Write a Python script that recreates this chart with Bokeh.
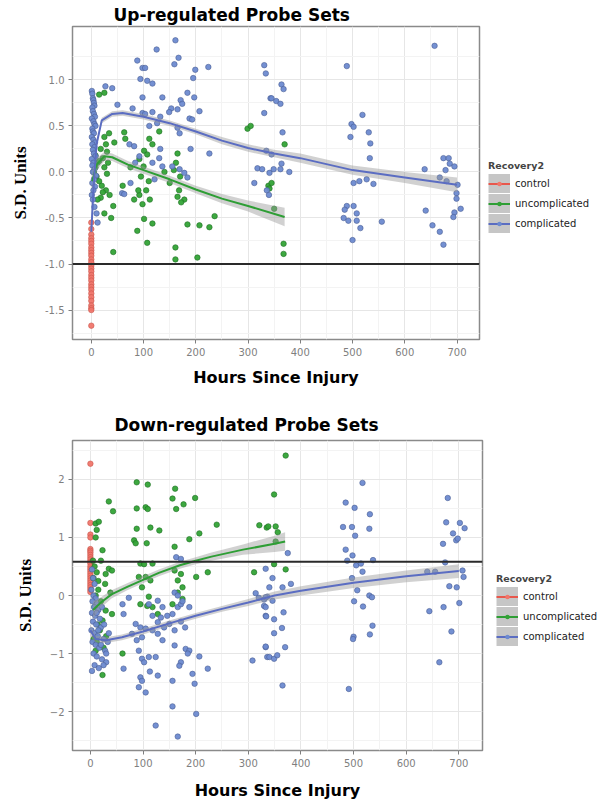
from bokeh.plotting import figure
from bokeh.layouts import column
from bokeh.models import Range1d, FixedTicker, Span, Legend, LegendItem, NumeralTickFormatter
from bokeh.embed import file_html
from bokeh.resources import INLINE

# ------------------------------------------------------------------ data
groups = ["control", "uncomplicated", "complicated"]
x_ticks = [0, 100, 200, 300, 400, 500, 600, 700]
x_minor = [50, 150, 250, 350, 450, 550, 650]
up_y_ticks = [-1.5, -1.0, -0.5, 0.0, 0.5, 1.0]
up_y_minor = [-1.75, -1.25, -0.75, -0.25, 0.25, 0.75, 1.25]
down_y_ticks = [-2, -1, 0, 1, 2]
down_y_minor = [-2.5, -1.5, -0.5, 0.5, 1.5, 2.5]

# ---- Up-regulated panel
up_control_x = [0, 0, 0, 0, 0, 0, 0, 0, 0, 0, 0, 0, 0, 0, 0, 0, 0, 0, 0, 0, 0, 0, 0, 0, 0, 0, 0, 0]
up_control_y = [-0.55, -0.62, -0.68, -0.72, -0.75, -0.78, -0.82, -0.85, -0.88, -0.91, -0.95, -0.98,
                -1.02, -1.05, -1.08, -1.12, -1.15, -1.18, -1.22, -1.25, -1.28, -1.32, -1.36, -1.40,
                -1.45, -1.48, -1.50, -1.67]

up_uncomp_x = [15, 25, 34, 44, 63, 65, 25, 28, 30, 18, 22, 12, 8, 5, 10, 15, 20, 28, 35, 18,
               12, 25, 30, 8, 15, 42, 25, 38, 22, 32, 111, 117, 101, 107, 92, 100, 95, 110, 105, 92,
               112, 98, 130, 165, 162, 170, 168, 165, 178, 172, 158, 82, 90, 88, 117, 101, 184, 207, 226, 236,
               107, 161, 42, 161, 203, 299, 305, 370, 339, 345, 341, 368, 368, 350, 140, 150, 60, 75]
up_uncomp_y = [0.84, 0.86, 0.42, 0.32, 0.43, 0.36, 0.38, 0.30, 0.22, 0.25, 0.15, 0.10, 0.05, 0.00, -0.05, -0.10, -0.15, -0.20, -0.25, -0.28,
               -0.30, 0.05, -0.02, 0.18, 0.12, -0.37, -0.45, -0.50, -0.22, 0.10, 0.36, 0.30, 0.23, 0.19, 0.14, 0.06, -0.05, -0.10, -0.20, -0.25,
               -0.30, -0.35, 0.44, 0.20, 0.10, -0.05, -0.20, -0.27, -0.30, -0.33, 0.02, -0.30, -0.20, -0.64, -0.56, -0.51, -0.57, -0.58, -0.60, -0.48,
               -0.77, -0.82, -0.87, -0.95, -0.93, 0.47, 0.50, 0.30, -0.15, -0.12, -0.18, -0.78, -0.89, -0.40, 0.00, -0.12, -0.15, 0.05]

up_comp_x = [1, 2, 3, 4, 5, 6, 2, 3, 5, 7, 1, 4, 6, 8, 2, 3, 5, 1, 4, 7, 2, 6, 3, 5, 8, 1, 4, 2, 6, 3, 9, 5, 2, 7, 4, 1, 3, 6, 10, 12,
             161, 125, 167, 88, 159, 98, 103, 199, 224, 94, 107, 117, 195, 40, 27, 98, 136, 184, 197, 50,
             171, 174, 153, 149, 165, 117, 132, 98, 207, 188, 193, 79, 103, 111, 126, 165, 169, 73, 82, 132,
             190, 226, 155, 169, 178, 184, 84, 92, 117, 130, 136, 75, 59, 63, 121,
             331, 334, 343, 331,
             489, 657, 364, 368, 345, 354, 362, 366, 519, 498, 502, 496, 531, 534, 533, 335, 345, 364, 379, 362,
             341, 349, 502, 513, 527, 540, 489, 502, 485, 508, 483, 492, 508, 515, 500, 556, 638, 674, 684, 686,
             695, 678, 667, 680, 701, 699, 699, 707, 695, 693, 640, 653, 667, 674, 318, 327, 312, 336, 340]
up_comp_y = [0.88, 0.85, 0.80, 0.78, 0.75, 0.72, 0.70, 0.66, 0.63, 0.60, 0.58, 0.55, 0.52, 0.50, 0.47, 0.44, 0.42, 0.38, 0.35, 0.32,
             0.30, 0.27, 0.24, 0.20, 0.17, 0.14, 0.10, 0.07, 0.03, 0.00, -0.04, -0.08, -0.12, -0.16, -0.20, -0.25, -0.30, -0.38, -0.45, -0.55,
             1.43, 1.33, 1.24, 1.21, 1.17, 1.13, 1.13, 1.11, 1.14, 1.01, 0.99, 0.96, 1.02, 0.91, 0.93, 0.81, 0.81, 0.86, 0.81, 0.73,
             0.78, 0.74, 0.69, 0.65, 0.68, 0.65, 0.60, 0.64, 0.66, 0.58, 0.57, 0.69, 0.63, 0.50, 0.53, 0.48, 0.42, 0.30, 0.28, 0.25,
             0.25, 0.20, 0.06, 0.03, -0.01, -0.06, 0.10, 0.17, 0.10, 0.15, 0.06, -0.12, -0.23, -0.24, -0.08,
             1.16, 1.07, 0.80, 0.64,
             1.15, 1.37, 0.95, 0.90, 0.80, 0.77, 0.74, 0.43, 0.62, 0.52, 0.49, 0.38, 0.43, 0.31, 0.15, 0.23, 0.19, 0.09, 0.00, 0.03,
             -0.01, 0.03, -0.12, -0.10, -0.08, -0.13, -0.37, -0.37, -0.41, -0.45, -0.50, -0.53, -0.53, -0.61, -0.74, -0.54, 0.03, 0.15, 0.15, 0.09,
             0.06, 0.02, -0.06, -0.10, -0.14, -0.23, -0.29, -0.40, -0.44, -0.49, -0.42, -0.58, -0.65, -0.79, 0.04, 0.03, -0.12, -0.20, -0.25]

up_uncomp_fit_x = [2, 10, 25, 40, 70, 100, 150, 200, 250, 300, 370]
up_uncomp_fit_y = [-0.10, 0.08, 0.17, 0.16, 0.08, 0.02, -0.08, -0.19, -0.29, -0.37, -0.49]
up_uncomp_fit_se = [0.12, 0.07, 0.05, 0.04, 0.04, 0.04, 0.04, 0.04, 0.05, 0.06, 0.10]

up_comp_fit_x = [0, 5, 10, 20, 40, 60, 100, 150, 200, 250, 300, 350, 400, 500, 600, 700]
up_comp_fit_y = [-0.65, -0.10, 0.30, 0.56, 0.63, 0.64, 0.60, 0.53, 0.44, 0.34, 0.26, 0.20, 0.15, 0.02, -0.06, -0.14]
up_comp_fit_se = [0.10, 0.06, 0.04, 0.03, 0.03, 0.03, 0.03, 0.03, 0.03, 0.04, 0.04, 0.04, 0.05, 0.05, 0.06, 0.08]

up_hline = -1.0

# ---- Down-regulated panel
down_control_x = [0, 0, 0, 0, 0, 0, 0, 0, 0, 0, 0, 0, 0, 0, 0, 0, 0, 0, 0, 0, 0, 0, 0, 0]
down_control_y = [2.27, 1.25, 1.05, 1.00, 0.80, 0.77, 0.74, 0.70, 0.66, 0.62, 0.58, 0.55, 0.50, 0.46,
                  0.42, 0.38, 0.34, 0.30, 0.26, 0.22, 0.18, 0.14, 0.10, 0.06]

down_uncomp_x = [88, 109, 161, 156, 177, 163, 199, 35, 43, 88, 105, 109, 88, 114, 131, 83, 86, 107, 188, 207,
                 240, 160, 10, 16, 12, 10, 23, 35, 41, 29, 15, 28, 38, 95, 102, 118, 92, 105, 114, 98,
                 111, 95, 108, 118, 160, 172, 166, 175, 166, 175, 156, 201, 223, 29, 41, 23, 61, 23, 10, 128,
                 371, 349, 356, 352, 321, 335, 352, 371, 349, 338, 311,
                 5, 8, 12, 6, 15, 10, 20, 8, 14, 18, 6, 12, 25, 10, 30, 20]
down_uncomp_y = [1.95, 1.91, 1.84, 1.67, 1.57, 1.49, 1.68, 1.62, 1.45, 1.50, 1.52, 1.49, 1.15, 1.17, 1.12, 0.95, 0.90, 0.90, 0.97, 1.07,
                 1.22, 0.84, 1.24, 1.27, 1.13, 1.00, 0.78, 0.46, 0.43, 0.37, 0.25, 0.20, 0.05, 0.55, 0.54, 0.55, 0.32, 0.32, 0.26, 0.14,
                 -0.02, -0.15, -0.18, -0.20, 0.43, 0.37, 0.26, 0.14, 0.05, -0.06, -0.15, 0.32, 0.40, -0.26, -0.32, -0.43, -1.00, -1.37, -0.71, -0.32,
                 2.41, 1.74, 1.09, 0.93, 1.21, 1.17, 1.19, 0.45, 0.54, 1.19, 0.40,
                 0.60, 0.50, 0.40, 0.30, 0.10, 0.00, -0.10, -0.20, -0.50, -0.60, -0.75, -0.80, -0.90, -0.95, -0.70, 0.60]

down_comp_x = [3, 5, 8, 2, 6, 10, 4, 12, 7, 15, 3, 9, 18, 5, 11, 20, 2, 8, 14, 25, 4, 10, 17, 28, 6, 12, 22, 30, 8, 3,
               15, 26, 20, 33, 35, 12, 22, 30, 25, 16,
               61, 73, 63, 111, 118, 128, 137, 146, 156, 166, 172, 163, 172, 86, 95, 105, 118, 128, 140, 150,
               160, 172, 180, 79, 88, 98, 92, 111, 98, 102, 124, 63, 113, 128, 95, 98, 92, 105, 156, 181,
               188, 185, 172, 169, 207, 223, 194, 198, 156, 201, 124, 166, 137, 160, 128, 134, 188, 160, 166, 175,
               314, 320, 330, 336, 330, 333, 333, 336, 308,
               517, 485, 502, 531, 480, 497, 503, 530, 485, 498, 488, 505, 514, 537, 517, 497, 507, 530, 535, 501,
               518, 536, 531, 500, 499, 491,
               679, 676, 702, 711, 689, 695, 698, 670, 674, 640, 655, 707, 709, 682, 696, 701, 671, 644, 686, 663,
               333, 346, 340, 365, 381, 375, 333, 346, 333, 334, 349, 367, 364, 349, 333, 340, 349, 355, 370, 365]
down_comp_y = [0.45, 0.30, 0.20, 0.10, 0.00, -0.05, -0.10, -0.15, -0.20, -0.25, -0.30, -0.35, -0.40, -0.45, -0.50, -0.55, -0.60, -0.65, -0.70, -0.75,
               -0.80, -0.85, -0.90, -0.95, -1.00, -1.05, -1.10, -1.15, -1.20, -1.30, -0.60, -0.50, -0.85, -0.80, -0.65, -0.30, -0.20, -1.00, -1.20, -1.25,
               -0.15, -0.04, -0.32, -0.15, -0.35, -0.09, -0.20, -0.35, -0.32, -0.20, -0.15, 0.66, 0.63, -0.49, -0.55, -0.57, -0.60, -0.66, -0.55, -0.49,
               -0.60, -0.45, -0.55, -0.66, -0.77, -0.72, -0.95, -1.06, -1.09, -1.15, -1.06, -1.26, -1.31, -1.38, -1.41, -1.47, -1.58, -1.67, -1.47, -0.92,
               -0.95, -1.00, -1.15, -1.21, -1.05, -1.26, -1.35, -1.52, -1.91, -2.04, -2.24, -2.43, -0.77, -0.86, -0.46, -0.38, -0.20, 0.05, 0.00, -0.10,
               0.04, -0.04, -0.07, -0.02, -0.18, -0.35, -0.89, -1.06, -1.12,
               1.94, 1.60, 1.51, 1.40, 1.18, 1.18, 1.03, 1.15, 0.79, 0.69, 0.60, 0.52, 0.55, 0.61, 0.41, 0.30, 0.09, 0.00, -0.03, -0.10,
               -0.19, -0.52, -0.67, -0.71, -0.75, -1.61,
               1.68, 1.26, 1.25, 1.16, 1.07, 0.95, 0.98, 0.89, 0.57, 0.41, 0.41, 0.43, 0.32, 0.16, 0.14, -0.13, -0.20, -0.27, -0.62, -1.15,
               0.46, 0.30, 0.14, 0.14, 0.20, 0.73, -0.03, -0.09, -0.20, -0.36, -0.41, -0.29, -0.56, -0.65, -0.88, -1.06, -1.09, -1.03, -0.89, -1.55]

down_uncomp_fit_x = [5, 20, 40, 70, 100, 130, 170, 200, 230, 290, 350, 370]
down_uncomp_fit_y = [-0.25, -0.12, 0.02, 0.15, 0.27, 0.39, 0.52, 0.60, 0.67, 0.79, 0.89, 0.93]
down_uncomp_fit_se = [0.15, 0.09, 0.07, 0.06, 0.06, 0.06, 0.06, 0.06, 0.07, 0.09, 0.14, 0.16]

down_comp_fit_x = [0, 10, 30, 60, 100, 150, 200, 250, 300, 350, 400, 500, 600, 700]
down_comp_fit_y = [-0.60, -0.75, -0.77, -0.72, -0.62, -0.48, -0.35, -0.23, -0.12, 0.00, 0.08, 0.22, 0.33, 0.42]
down_comp_fit_se = [0.10, 0.06, 0.05, 0.05, 0.05, 0.05, 0.05, 0.05, 0.06, 0.07, 0.08, 0.09, 0.10, 0.12]

down_hline = 0.58

# ------------------------------------------------------------------ styles
PT_COL = {"control": "#f0766b", "uncomplicated": "#33a336", "complicated": "#6d8ad0"}
PT_EDGE = {"control": "#c9554c", "uncomplicated": "#1f6e24", "complicated": "#4a5e94"}
LN_COL = {"control": "#e8574c", "uncomplicated": "#2e9e35", "complicated": "#5b6dc2"}
GREY = "#7f7f7f"
KEY_BG = "#c6c6c6"


def make_panel(title, xr, yr, yticks, yminor, yfmt, frame, borders, title_off, title_standoff,
               pts, fits, hline, xlab_standoff, leg_loc):
    fw, fh = frame
    bl, br, bt, bb = borders
    p = figure(frame_width=fw, frame_height=fh, min_border_left=bl, min_border_right=br,
               min_border_top=bt, min_border_bottom=bb,
               x_range=Range1d(*xr), y_range=Range1d(*yr),
               output_backend="svg", toolbar_location=None, title=title)
    p.title.text_font = "DejaVu Sans"
    p.title.text_font_style = "bold"
    p.title.text_font_size = "17px"
    p.title.text_color = "black"
    p.title.align = "left"
    p.title.offset = title_off
    p.title.standoff = title_standoff
    p.background_fill_color = "white"
    p.border_fill_color = "white"
    p.outline_line_color = "#8a8a8a"
    p.outline_line_width = 1.5

    p.xaxis.ticker = FixedTicker(ticks=x_ticks, minor_ticks=x_minor)
    p.yaxis.ticker = FixedTicker(ticks=yticks, minor_ticks=yminor)
    if yfmt:
        p.yaxis.formatter = NumeralTickFormatter(format=yfmt)
    for ax in (p.xaxis[0], p.yaxis[0]):
        ax.axis_line_color = None
        ax.major_tick_out = 4
        ax.major_tick_in = 0
        ax.minor_tick_out = 0
        ax.minor_tick_in = 0
        ax.major_tick_line_color = GREY
        ax.major_label_text_color = GREY
        ax.major_label_text_font = "DejaVu Sans"
        ax.major_label_text_font_size = "10px"
        ax.major_label_standoff = 4
    p.xaxis.axis_label = "Hours Since Injury"
    p.xaxis.axis_label_text_font = "DejaVu Sans"
    p.xaxis.axis_label_text_font_style = "bold"
    p.xaxis.axis_label_text_font_size = "16px"
    p.xaxis.axis_label_text_color = "black"
    p.xaxis.axis_label_standoff = xlab_standoff
    p.yaxis.axis_label = "S.D. Units"
    p.yaxis.axis_label_text_font = "Liberation Serif"
    p.yaxis.axis_label_text_font_style = "bold"
    p.yaxis.axis_label_text_font_size = "17px"
    p.yaxis.axis_label_text_color = "black"
    p.yaxis.axis_label_standoff = 12

    for g in (p.xgrid[0], p.ygrid[0]):
        g.grid_line_color = "#e6e6e6"
        g.grid_line_width = 1
        g.minor_grid_line_color = "#f3f3f3"

    # legend-key helpers: one-point lines draw nothing in the plot area,
    # but give a full-width grey band, a coloured stroke and a centred dot in the key
    key_box, key_line, key_dot = {}, {}, {}
    for g in groups:
        xs, ys = pts[g]
        key_box[g] = p.line(x=xs[:1], y=ys[:1], line_color=KEY_BG, line_width=20, line_cap="butt")
        key_line[g] = p.line(x=xs[:1], y=ys[:1], line_color=LN_COL[g], line_width=2)
        key_dot[g] = p.line(x=xs[:1], y=ys[:1], line_color=PT_COL[g], line_width=4.5,
                            line_cap="round", line_dash="0 40", line_dash_offset=-11)

    for g in groups:
        xs, ys = pts[g]
        p.scatter(xs, ys, size=5.5, fill_color=PT_COL[g], line_color=PT_EDGE[g],
                  line_width=0.6, fill_alpha=0.95)
    for g in groups:
        fx, fy, se = fits[g]
        if not fx:
            continue
        lo = [a - b for a, b in zip(fy, se)]
        hi = [a + b for a, b in zip(fy, se)]
        p.varea(x=fx, y1=lo, y2=hi, fill_color="#999999", fill_alpha=0.45)
        p.line(fx, fy, line_color=LN_COL[g], line_width=2)

    p.add_layout(Span(location=hline, dimension="width", line_color="#2a2a2a", line_width=2))

    items = [LegendItem(label=g, renderers=[key_box[g], key_line[g], key_dot[g]]) for g in groups]
    leg = Legend(items=items, title="Recovery2", location=leg_loc, margin=0, padding=0,
                 spacing=1, glyph_width=22, glyph_height=19, label_standoff=5,
                 label_text_font="DejaVu Sans", label_text_font_size="10px", label_text_color="#222222",
                 label_height=19, title_text_font="DejaVu Sans", title_text_font_style="bold",
                 title_text_font_size="9.5px", title_standoff=3,
                 border_line_color=None, background_fill_alpha=0)
    p.add_layout(leg, "right")
    return p


top = make_panel("Up-regulated Probe Sets", (-36, 743), (-1.82, 1.58), up_y_ticks, up_y_minor, "0.0",
                 (407, 313), (68, 122, 21, 60), 41, 4,
                 {"control": (up_control_x, up_control_y),
                  "uncomplicated": (up_uncomp_x, up_uncomp_y),
                  "complicated": (up_comp_x, up_comp_y)},
                 {"control": ([], [], []),
                  "uncomplicated": (up_uncomp_fit_x, up_uncomp_fit_y, up_uncomp_fit_se),
                  "complicated": (up_comp_fit_x, up_comp_fit_y, up_comp_fit_se)},
                 up_hline, 9, (9, 106))

bot = make_panel("Down-regulated Probe Sets", (-34, 745), (-2.67, 2.67), down_y_ticks, down_y_minor, None,
                 (410, 310), (72, 115, 41, 50), 42, 12,
                 {"control": (down_control_x, down_control_y),
                  "uncomplicated": (down_uncomp_x, down_uncomp_y),
                  "complicated": (down_comp_x, down_comp_y)},
                 {"control": ([], [], []),
                  "uncomplicated": (down_uncomp_fit_x, down_uncomp_fit_y, down_uncomp_fit_se),
                  "complicated": (down_comp_fit_x, down_comp_fit_y, down_comp_fit_se)},
                 down_hline, 11, (14, 104))

layout = column(top, bot, spacing=0)
open("out.html", "w").write(file_html(layout, INLINE))
